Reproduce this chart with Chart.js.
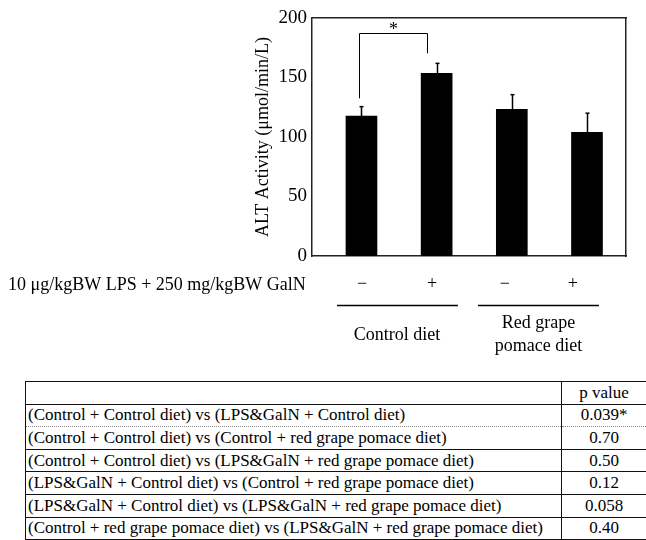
<!DOCTYPE html>
<html>
<head>
<meta charset="utf-8">
<script src="https://cdn.jsdelivr.net/npm/chart.js@4.4.1/dist/chart.umd.min.js"></script>
<style>
html,body{margin:0;padding:0;background:#fff;}
#wrap{position:relative;width:646px;height:540px;overflow:hidden;background:#fff;}
#chart{position:absolute;left:0;top:0;}
#tbl{position:absolute;left:25px;top:381px;border-collapse:collapse;table-layout:fixed;width:621px;
  font-family:"Liberation Serif","Times New Roman",serif;font-size:17px;color:#000;}
#tbl td{border:1px solid #111;padding:0 0 0 2px;height:21.6px;line-height:20px;white-space:nowrap;overflow:hidden;}
#tbl td.p{text-align:center;padding:0;}
#tbl tr.dotb td{border-bottom:1px dotted #888;}
#tbl tr.dott td{border-top:1px dotted #888;}
</style>
</head>
<body>
<div id="wrap">
<canvas id="chart" width="646" height="380"></canvas>
<table id="tbl"><colgroup><col style="width:536px"><col style="width:85px"></colgroup><tbody id="tb"></tbody></table>
</div>
<script>
// ---- data ----
const categories = ['Control diet, −', 'Control diet, +', 'Red grape pomace diet, −', 'Red grape pomace diet, +'];
const altActivity = [117.5, 153.5, 123.2, 104];
const altError = [8, 8.4, 12.4, 16];
const yTicks = [0, 50, 100, 150, 200];
const lpsGalN = ['−', '+', '−', '+'];
const treatmentLabel = '10 μg/kgBW LPS + 250 mg/kgBW GalN';
const dietGroups = [['Control diet'], ['Red grape', 'pomace diet']];
const yTitle = 'ALT Activity (μmol/min/L)';
const sigBracket = {from: 1, to: 2, top: 187, leftEnd: 132.5, rightEnd: 170.3, mark: '*'};
const pHeader = 'p value';
const comparisons = [
  '(Control + Control diet) vs (LPS&GalN + Control diet)',
  '(Control + Control diet) vs (Control + red grape pomace diet)',
  '(Control + Control diet) vs (LPS&GalN + red grape pomace diet)',
  '(LPS&GalN + Control diet) vs (Control + red grape pomace diet)',
  '(LPS&GalN + Control diet) vs (LPS&GalN + red grape pomace diet)',
  '(Control + red grape pomace diet) vs (LPS&GalN + red grape pomace diet)'
];
const pValues = ['0.039*', '0.70', '0.50', '0.12', '0.058', '0.40'];

// ---- table ----
const tb = document.getElementById('tb');
function addRow(a, b, cls) {
  const tr = document.createElement('tr');
  if (cls) tr.className = cls;
  const t1 = document.createElement('td'); t1.textContent = a;
  const t2 = document.createElement('td'); t2.className = 'p'; t2.textContent = b;
  tr.appendChild(t1); tr.appendChild(t2); tb.appendChild(tr);
}
addRow('', pHeader);
comparisons.forEach((c, i) => addRow(c, pValues[i], i === 0 ? 'dotb' : (i === 1 ? 'dott' : '')));

// ---- chart ----
const SERIF = '"Liberation Serif","Times New Roman",serif';
const layoutX = { // positions along the x scale (x-value units)
  signs: [1.007, 1.938, 2.908, 3.813],
  groupLines: [[0.674, 2.283], [2.55, 4.159]],
  groupCenters: [1.472, 3.354],
  bracketRight: 1.874
};
const annot = {
  id: 'annot',
  afterDatasetsDraw(chart) {
    const {ctx, scales: {x, y}} = chart;
    ctx.save();
    ctx.strokeStyle = '#000';
    ctx.fillStyle = '#000';
    // error bars
    ctx.lineWidth = 1.5;
    altActivity.forEach((v, i) => {
      const px = Math.round(x.getPixelForValue(i + 1)) + 0.5;
      const y0 = y.getPixelForValue(v), y1 = y.getPixelForValue(v + altError[i]);
      ctx.beginPath(); ctx.moveTo(px, y0); ctx.lineTo(px, y1); ctx.stroke();
      ctx.beginPath(); ctx.moveTo(px - 2, y1); ctx.lineTo(px + 2, y1); ctx.stroke();
    });
    // significance bracket
    ctx.lineWidth = 1;
    const bl = Math.round(x.getPixelForValue(sigBracket.from)) - 1.5;
    const br = Math.round(x.getPixelForValue(layoutX.bracketRight)) + 0.5;
    const bt = Math.round(y.getPixelForValue(sigBracket.top)) + 0.5;
    ctx.beginPath();
    ctx.moveTo(bl, y.getPixelForValue(sigBracket.leftEnd));
    ctx.lineTo(bl, bt); ctx.lineTo(br, bt);
    ctx.lineTo(br, y.getPixelForValue(sigBracket.rightEnd));
    ctx.stroke();
    ctx.font = '18px ' + SERIF;
    ctx.textAlign = 'center'; ctx.textBaseline = 'alphabetic';
    ctx.fillText(sigBracket.mark, (bl + br) / 2, bt + 1);
    ctx.restore();
  },
  afterDraw(chart) {
    const {ctx, scales: {x}} = chart;
    ctx.save();
    ctx.fillStyle = '#000'; ctx.strokeStyle = '#000';
    ctx.font = '18px ' + SERIF;
    ctx.textBaseline = 'middle';
    ctx.textAlign = 'left';
    ctx.fillText(treatmentLabel, 8, 285);
    ctx.textAlign = 'center';
    lpsGalN.forEach((s, i) => ctx.fillText(s, x.getPixelForValue(layoutX.signs[i]), 284));
    ctx.lineWidth = 1.5;
    layoutX.groupLines.forEach(([a, b]) => {
      ctx.beginPath(); ctx.moveTo(x.getPixelForValue(a), 305.5); ctx.lineTo(x.getPixelForValue(b), 305.5); ctx.stroke();
    });
    dietGroups.forEach((lines, g) => {
      const cx = x.getPixelForValue(layoutX.groupCenters[g]);
      if (lines.length === 1) ctx.fillText(lines[0], cx, 335);
      else lines.forEach((t, k) => ctx.fillText(t, cx, 323 + k * 23));
    });
    ctx.restore();
  }
};

const borderOpt = {display: true, color: '#222', width: 1.5};
new Chart(document.getElementById('chart'), {
  type: 'bar',
  data: {
    labels: categories,
    datasets: [{
      label: 'ALT Activity',
      data: altActivity.map((v, i) => ({x: i + 1, y: v})),
      backgroundColor: '#000',
      borderColor: '#000',
      borderWidth: 0,
      barThickness: 31
    }]
  },
  options: {
    responsive: false,
    animation: false,
    devicePixelRatio: 1,
    layout: {padding: {left: 240, right: 20, top: 18, bottom: 124}},
    plugins: {legend: {display: false}, tooltip: {enabled: false}},
    scales: {
      x: {type: 'linear', min: 0.342, max: 4.519, offset: false,
          ticks: {display: false}, grid: {display: false, drawTicks: false}, border: borderOpt,
          afterFit(s) { s.height = 0; }},
      xTop: {type: 'linear', position: 'top', min: 0.342, max: 4.519, offset: false,
          ticks: {display: false}, grid: {display: false, drawTicks: false}, border: borderOpt,
          afterFit(s) { s.height = 0; }},
      y: {min: 0, max: 200,
          afterBuildTicks(s) { s.ticks = yTicks.map(v => ({value: v})); },
          ticks: {font: {family: SERIF, size: 19}, color: '#000', padding: 5},
          grid: {display: false, drawTicks: false}, border: borderOpt,
          title: {display: true, text: yTitle, color: '#000', font: {family: SERIF, size: 18}, padding: {top: 12, bottom: 0}},
          afterFit(s) { s.width = 72; }},
      yRight: {position: 'right', min: 0, max: 200,
          ticks: {display: false}, grid: {display: false, drawTicks: false}, border: borderOpt,
          afterFit(s) { s.width = 0; }}
    }
  },
  plugins: [annot]
});
</script>
</body>
</html>
